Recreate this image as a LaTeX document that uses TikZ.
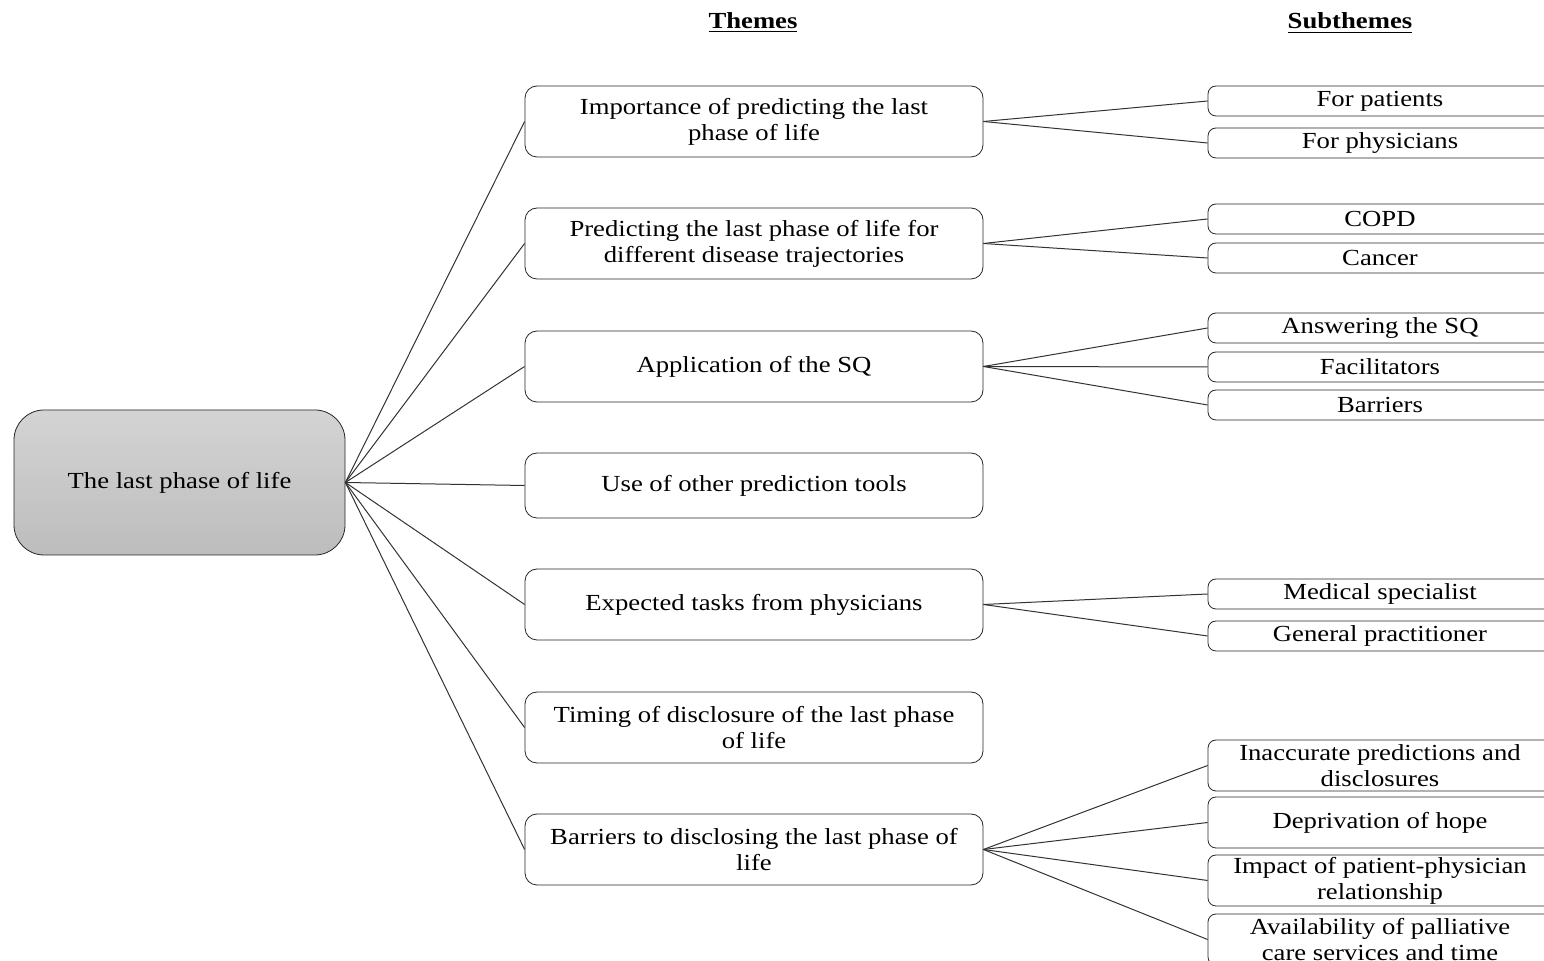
\documentclass[tikz,border=0pt]{standalone}
\usepackage{fontspec}
\setmainfont{Liberation Serif}[FakeStretch=1.16]
\begin{document}
\begin{tikzpicture}[x=0.5pt, y=-0.5pt,
    theme/.style={draw=black!85, rounded corners=6pt, inner sep=0pt,
      minimum width=229pt, minimum height=35.5pt, align=center,
      font=\fontsize{11.5}{13}\selectfont},
    sub/.style={draw=black!85, rounded corners=4pt, inner sep=0pt,
      minimum width=172pt, minimum height=15pt, align=center,
      font=\fontsize{11.5}{13}\selectfont},
    link/.style={black!80, line width=0.5pt},
    head/.style={font=\fontsize{11.5}{13}\selectfont\bfseries}]
      \useasboundingbox (0,0) rectangle (1544,961);
      \clip (0,0) rectangle (1544,961);

      \node[head] (H1) at (753,23) {\underline{Themes}};
      \node[head] (H2) at (1350,23) {\underline{Subthemes}};

      \node[draw=black!85, rounded corners=15pt, top color=black!17, bottom color=black!26,
        minimum width=165.5pt, minimum height=72.5pt, inner sep=0pt,
        font=\fontsize{11.5}{13}\selectfont] (R) at (179.5,482.5) {The last phase of life};

      % themes
      \node[theme] (T1) at (754,121.5) {Importance of predicting the last\\phase of life};
      \node[theme] (T2) at (754,243.5) {Predicting the last phase of life for\\different disease trajectories};
      \node[theme] (T3) at (754,366.5) {Application of the SQ};
      \node[theme, minimum height=32.5pt] (T4) at (754,485.5) {Use of other prediction tools};
      \node[theme] (T5) at (754,604.5) {Expected tasks from physicians};
      \node[theme] (T6) at (754,727.5) {Timing of disclosure of the last phase\\of life};
      \node[theme] (T7) at (754,849.5) {Barriers to disclosing the last phase of\\life};

      \foreach \t in {1,...,7} {
        \draw[link] (R.east) -- (T\t.west);
      }

      % subthemes
      \foreach \y\n\s\p in {101/A/1/For patients,143/B/1/For physicians,
          219/C/2/COPD,258/D/2/Cancer,
          328/E/3/Answering the SQ,367/F/3/Facilitators,405/G/3/Barriers,
          594/H/5/Medical specialist,636/I/5/General practitioner} {
        \node[sub] (\n) at (1380,\y) {\p};
        \draw[link] (T\s.east) -- (\n.west);
      }

      \node[sub, minimum height=25.5pt] (J) at (1380,765.5) {Inaccurate predictions and\\disclosures};
      \node[sub, minimum height=25.5pt] (K) at (1380,822.5) {Deprivation of hope};
      \node[sub, minimum height=25.5pt] (L) at (1380,880.5) {Impact of patient-physician\\relationship};
      \node[sub, minimum height=25.5pt] (M) at (1380,939.5) {Availability of palliative\\care services and time};

      \draw[link] (T7.east) -- (J.west);
      \draw[link] (T7.east) -- (K.west);
      \draw[link] (T7.east) -- (L.west);
      \draw[link] (T7.east) -- (M.west);
    \end{tikzpicture}
\end{document}
